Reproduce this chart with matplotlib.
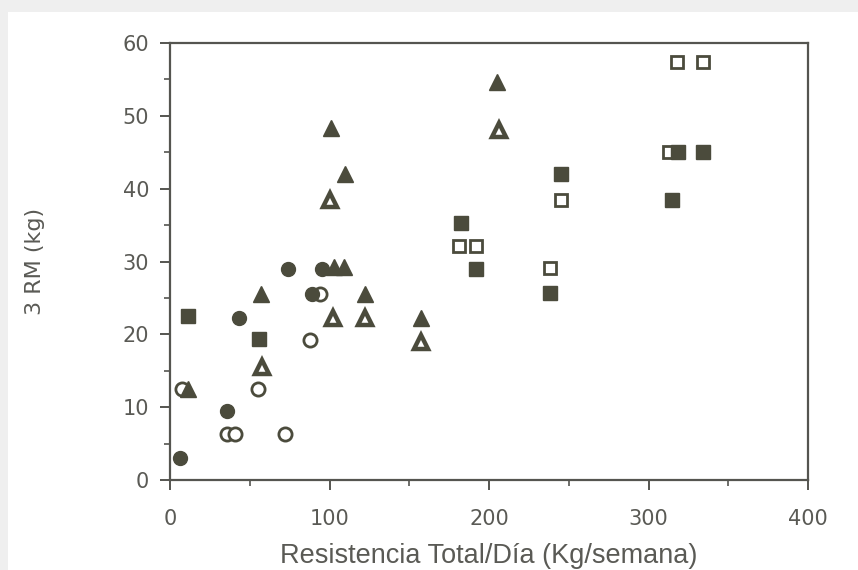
import matplotlib.pyplot as plt
from matplotlib.patches import Rectangle

# -----------------------------
# DATA
# -----------------------------
circ_fill_x = [6, 36, 43, 74, 95, 89]
circ_fill_y = [3, 9.5, 22.3, 29, 29, 25.6]

circ_open_x = [7.5, 55, 36, 41, 72, 94, 88]
circ_open_y = [12.5, 12.5, 6.3, 6.3, 6.3, 25.6, 19.2]

tri_fill_x = [101, 110, 205, 57, 103, 109, 122.5, 157.5, 11.5]
tri_fill_y = [48.3, 42, 54.6, 25.6, 29.2, 29.2, 25.6, 22.3, 12.5]

tri_open_x = [100, 206, 57.5, 102, 122.5, 157.5]
tri_open_y = [38.4, 48, 15.5, 22.2, 22.2, 19]

sq_fill_x = [11.5, 55.6, 182.5, 192, 238, 245, 315, 318.5, 334]
sq_fill_y = [22.5, 19.4, 35.3, 29, 25.7, 42, 38.4, 45, 45]

sq_open_x = [181, 192, 238, 245, 318, 334, 313]
sq_open_y = [32.1, 32.1, 29.1, 38.4, 57.4, 57.4, 45]

x_ticks = [0, 100, 200, 300, 400]
y_ticks = [0, 10, 20, 30, 40, 50, 60]

ink = "#4b4b3c"
txt = "#5a5a55"

# -----------------------------
# FIGURE
# -----------------------------
fig = plt.figure(figsize=(8.58, 5.70), dpi=100, facecolor="#efefef")
fig.patches.append(Rectangle((8 / 858, 0), 850 / 858, 1 - 12 / 570,
                             transform=fig.transFigure, facecolor="white",
                             edgecolor="none", zorder=-1))
ax = fig.add_axes([170 / 858, 1 - 480 / 570, 638 / 858, 437 / 570])
ax.set_facecolor("white")

mew = 2.0
ax.plot(circ_open_x, circ_open_y, "o", ms=9.5, mfc="white", mec=ink, mew=mew, ls="none")
ax.plot(circ_fill_x, circ_fill_y, "o", ms=10, mfc=ink, mec=ink, ls="none")
ax.plot(tri_open_x, tri_open_y, "^", ms=10.5, mfc="white", mec=ink, mew=3.2, ls="none")
ax.plot(tri_fill_x, tri_fill_y, "^", ms=11, mfc=ink, mec=ink, ls="none")
ax.plot(sq_open_x, sq_open_y, "s", ms=9, mfc="white", mec=ink, mew=mew, ls="none")
ax.plot(sq_fill_x, sq_fill_y, "s", ms=9.5, mfc=ink, mec=ink, ls="none")

ax.set_xlim(0, 400)
ax.set_ylim(0, 60)
ax.set_xticks(x_ticks)
ax.set_yticks(y_ticks)
ax.set_xticks(range(50, 400, 100), minor=True)
ax.set_yticks(range(5, 60, 10), minor=True)

for s in ax.spines.values():
    s.set_color("#555550")
    s.set_linewidth(1.6)

ax.tick_params(axis="both", which="major", direction="out", length=7, width=1.4,
               color="#555550", labelcolor=txt, labelsize=15)
ax.tick_params(axis="both", which="minor", direction="out", length=4, width=1.2,
               color="#555550")
ax.tick_params(axis="y", which="major", pad=8)
ax.tick_params(axis="x", which="major", pad=14)
for lab in ax.get_xticklabels() + ax.get_yticklabels():
    lab.set_fontweight("medium")

ax.set_xlabel("Resistencia Total/Día (Kg/semana)", fontsize=19.5, color=txt,
              family="Liberation Sans", labelpad=10)
ax.set_ylabel("3 RM (kg)", fontsize=16, color=txt, fontweight="medium", labelpad=56)

fig.savefig("out.png", dpi=100, facecolor=fig.get_facecolor())
